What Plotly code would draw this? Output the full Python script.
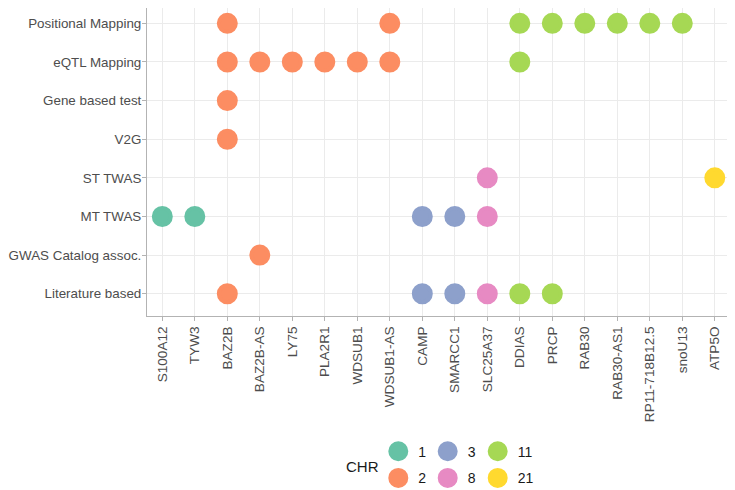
import plotly.graph_objects as go

genes = ["S100A12", "TYW3", "BAZ2B", "BAZ2B-AS", "LY75", "PLA2R1", "WDSUB1", "WDSUB1-AS",
         "CAMP", "SMARCC1", "SLC25A37", "DDIAS", "PRCP", "RAB30", "RAB30-AS1",
         "RP11-718B12.5", "snoU13", "ATP5O"]
gene_chr = [1, 1, 2, 2, 2, 2, 2, 2, 3, 3, 8, 11, 11, 11, 11, 11, 11, 21]

methods = ["Positional Mapping", "eQTL Mapping", "Gene based test", "V2G", "ST TWAS",
           "MT TWAS", "GWAS Catalog assoc.", "Literature based"]

hits = {
    "Positional Mapping": ["BAZ2B", "WDSUB1-AS", "DDIAS", "PRCP", "RAB30", "RAB30-AS1",
                           "RP11-718B12.5", "snoU13"],
    "eQTL Mapping": ["BAZ2B", "BAZ2B-AS", "LY75", "PLA2R1", "WDSUB1", "WDSUB1-AS", "DDIAS"],
    "Gene based test": ["BAZ2B"],
    "V2G": ["BAZ2B"],
    "ST TWAS": ["SLC25A37", "ATP5O"],
    "MT TWAS": ["S100A12", "TYW3", "CAMP", "SMARCC1", "SLC25A37"],
    "GWAS Catalog assoc.": ["BAZ2B-AS"],
    "Literature based": ["BAZ2B", "CAMP", "SMARCC1", "SLC25A37", "DDIAS", "PRCP"],
}

chr_levels = [1, 2, 3, 8, 11, 21]
chr_colors = ["#66C2A5", "#FC8D62", "#8DA0CB", "#E78AC3", "#A6D854", "#FFD92F"]

FONT = "Liberation Sans, Arial, sans-serif"
TXT = "#4d4d4d"

# page is rendered with an 8px body margin, so the figure is sized to the remaining area
W, H = 727, 482
ML, MR, MT, MB = 139, 2, 0, 174
plot_h = H - MT - MB

chr_of = dict(zip(genes, gene_chr))
fig = go.Figure()

# legend laid out like ggplot (filled by column, 2 rows x 3 columns);
# each key is its own legend so the grid can be placed exactly
legend_ids = ["legend", "legend2", "legend3", "legend4", "legend5", "legend6"]
col_x = [370.3, 419.7, 469.7]
row_y = [443.7, 470.3]

leg_common = dict(
    orientation="h", xref="container", yref="container",
    xanchor="left", yanchor="middle",
    font=dict(family=FONT, size=14, color="#1a1a1a"),
    itemwidth=30, bgcolor="rgba(0,0,0,0)",
)
legend_layout = {}
for i, (c, col) in enumerate(zip(chr_levels, chr_colors)):
    xs, ys = [], []
    for m in methods:
        for g in hits[m]:
            if chr_of[g] == c:
                xs.append(g)
                ys.append(m)
    lid = legend_ids[i]
    fig.add_trace(go.Scatter(
        x=xs, y=ys, mode="markers", name=str(c),
        marker=dict(size=17, color=col, line=dict(width=4, color=col)),
        legend=lid, hoverinfo="skip",
    ))
    legend_layout[lid] = dict(x=col_x[i // 2] / W, y=(H - row_y[i % 2]) / H, **leg_common)

axis_common = dict(
    showgrid=True, gridcolor="#ebebeb", gridwidth=1,
    showline=True, linecolor="#b3b3b3", linewidth=1,
    ticks="outside", ticklen=4, tickcolor="#b3b3b3", tickwidth=1,
    zeroline=False, type="category", automargin=False,
)

fig.update_xaxes(categoryorder="array", categoryarray=genes, range=[-0.471, 17.56],
                 tickangle=-90, mirror=False,
                 tickfont=dict(family=FONT, size=13.6, color=TXT), **axis_common)
fig.update_yaxes(categoryorder="array", categoryarray=methods, range=[7.576, -0.397],
                 mirror=True, ticklabelstandoff=-2,
                 tickfont=dict(family=FONT, size=13.4, color=TXT), **axis_common)

fig.update_layout(
    width=W, height=H,
    margin=dict(l=ML, r=MR, t=MT, b=MB),
    plot_bgcolor="white", paper_bgcolor="white",
    font=dict(family=FONT, color=TXT),
    showlegend=True,
    annotations=[dict(text="CHR", xref="paper", yref="paper",
                      x=(336 - ML) / (W - ML - MR), y=(plot_h - 458.7) / plot_h,
                      xanchor="left", yanchor="middle", showarrow=False,
                      font=dict(family=FONT, size=15, color="#1a1a1a"))],
    **legend_layout,
)

fig.write_html("out.html")
